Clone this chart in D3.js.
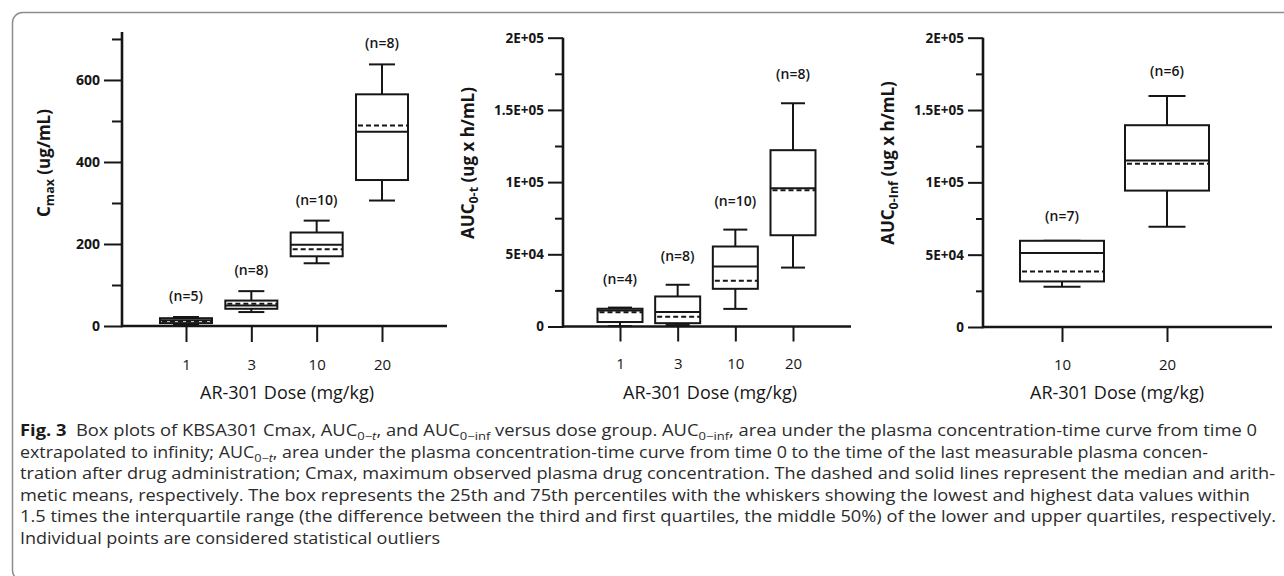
<!DOCTYPE html>
<html>
<head>
<meta charset="utf-8">
<script src="https://cdn.jsdelivr.net/npm/d3@7"></script>
<style>
  body { margin: 0; background: #fff; }
  svg { display: block; }
</style>
</head>
<body>
<script>
// values
const doses4 = ["1", "3", "10", "20"];
const doses2 = ["10", "20"];

// Cmax (ug/mL)
const cmaxN = [5, 8, 10, 8];
const cmaxMin = [4, 34, 153, 306];
const cmaxQ1 = [7, 42, 170, 356];
const cmaxMedian = [11, 54, 187, 489];
const cmaxMean = [14, 50, 198, 474];
const cmaxQ3 = [19, 62, 228, 565];
const cmaxMax = [22, 85, 257, 638];

// AUC 0-t (ug x h/mL)
const auctN = [4, 8, 10, 8];
const auctMin = [300, 1000, 12200, 40800];
const auctQ1 = [3100, 2300, 26100, 63200];
const auctMedian = [9800, 6800, 31600, 94400];
const auctMean = [11100, 10000, 41500, 95800];
const auctQ3 = [12300, 20800, 55400, 122100];
const auctMax = [13100, 28900, 67100, 154600];

// AUC 0-inf (ug x h/mL)
const aucinfN = [7, 6];
const aucinfMin = [27800, 69300];
const aucinfQ1 = [31500, 94300];
const aucinfMedian = [38400, 112800];
const aucinfMean = [51100, 115100];
const aucinfQ3 = [59600, 139500];
const aucinfMax = [59600, 159700];

// axis ticks
const cmaxTicks = [0, 200, 400, 600];
const cmaxMinorTicks = [100, 300, 500, 700];
const aucTicks = [0, 50000, 100000, 150000, 200000];
const aucTickLabels = ["0", "5E+04", "1E+05", "1.5E+05", "2E+05"];
const aucMinorTicks = [25000, 75000, 125000, 175000];

const W = 1284, H = 576;
const ink = "#161616";

const svg = d3.select("body").append("svg")
  .attr("width", W).attr("height", H)
  .attr("viewBox", `0 0 ${W} ${H}`);

// figure frame (runs off the right and bottom edges)
svg.append("rect")
  .attr("x", 12.5).attr("y", 12.5)
  .attr("width", 1300).attr("height", 568)
  .attr("rx", 10)
  .attr("fill", "none")
  .attr("stroke", "#8c8c8c")
  .attr("stroke-width", 1.5);

function zip(cats, n, mn, q1, med, mean, q3, mx) {
  return cats.map((c, i) => ({
    cat: c, n: n[i], min: mn[i], q1: q1[i], median: med[i],
    mean: mean[i], q3: q3[i], max: mx[i]
  }));
}

function boxPanel(opt) {
  const g = svg.append("g");

  const y = d3.scaleLinear().domain(opt.yDomain).range([opt.y0, opt.yTop]);
  const x = d3.scalePoint().domain(opt.cats).range(opt.xRange);

  // minor y ticks
  g.append("g")
    .attr("transform", `translate(${opt.axisX},0)`)
    .call(d3.axisLeft(y).tickValues(opt.minorTicks).tickSize(opt.minorLen).tickFormat(""))
    .call(a => a.select(".domain").remove());

  // major y ticks
  const ya = g.append("g")
    .attr("transform", `translate(${opt.axisX},0)`)
    .call(d3.axisLeft(y).tickValues(opt.ticks).tickSize(opt.majorLen).tickPadding(4)
      .tickFormat((d, i) => opt.tickLabels ? opt.tickLabels[i] : d));
  ya.select(".domain").remove();
  ya.selectAll("text")
    .attr("font-family", "Open Sans")
    .attr("font-weight", 700)
    .attr("font-size", opt.tickFont)
    .attr("fill", ink);

  // x ticks
  const xa = g.append("g")
    .attr("transform", `translate(0,${y(0)})`)
    .call(d3.axisBottom(x).tickSize(opt.xTickLen).tickPadding(17));
  xa.select(".domain").remove();
  xa.selectAll("text")
    .attr("font-family", "Open Sans")
    .attr("font-size", 15)
    .attr("fill", ink);

  g.selectAll(".tick line")
    .attr("stroke", ink)
    .attr("stroke-width", 2);

  // axis lines
  g.append("line")
    .attr("x1", opt.axisX).attr("x2", opt.axisX)
    .attr("y1", y(0) + 1.2).attr("y2", opt.yTop)
    .attr("stroke", ink).attr("stroke-width", 2.6);
  g.append("line")
    .attr("x1", opt.axisX).attr("x2", opt.xEnd)
    .attr("y1", y(0)).attr("y2", y(0))
    .attr("stroke", ink).attr("stroke-width", 2.6);

  // boxes
  const bw = opt.boxW, cw = opt.capW;
  const box = g.selectAll(".box").data(opt.data).enter().append("g")
    .attr("class", "box")
    .attr("fill", "none")
    .attr("stroke", ink)
    .attr("stroke-width", 2);

  box.append("line")
    .attr("x1", d => x(d.cat)).attr("x2", d => x(d.cat))
    .attr("y1", d => y(d.max)).attr("y2", d => y(d.q3));
  box.append("line")
    .attr("x1", d => x(d.cat)).attr("x2", d => x(d.cat))
    .attr("y1", d => y(d.q1)).attr("y2", d => y(d.min));
  box.append("line")
    .attr("x1", d => x(d.cat) - cw / 2).attr("x2", d => x(d.cat) + cw / 2)
    .attr("y1", d => y(d.max)).attr("y2", d => y(d.max));
  box.append("line")
    .attr("x1", d => x(d.cat) - cw / 2).attr("x2", d => x(d.cat) + cw / 2)
    .attr("y1", d => y(d.min)).attr("y2", d => y(d.min));
  box.append("rect")
    .attr("x", d => x(d.cat) - bw / 2)
    .attr("width", bw)
    .attr("y", d => y(d.q3))
    .attr("height", d => y(d.q1) - y(d.q3))
    .attr("fill", "#fff");
  // mean: solid
  box.append("line")
    .attr("x1", d => x(d.cat) - bw / 2).attr("x2", d => x(d.cat) + bw / 2)
    .attr("y1", d => y(d.mean)).attr("y2", d => y(d.mean));
  // median: dashed
  box.append("line")
    .attr("x1", d => x(d.cat) - bw / 2 + 2).attr("x2", d => x(d.cat) + bw / 2)
    .attr("y1", d => y(d.median)).attr("y2", d => y(d.median))
    .attr("stroke-dasharray", "5,3");

  // n labels
  g.selectAll(".nlab").data(opt.data).enter().append("text")
    .attr("x", d => x(d.cat))
    .attr("y", d => y(d.max) - opt.nOffset)
    .attr("text-anchor", "middle")
    .attr("font-family", "Open Sans")
    .attr("font-weight", 600)
    .attr("font-size", 14)
    .attr("fill", ink)
    .text(d => `(n=${d.n})`);

  // y title
  const yt = g.append("text")
    .attr("transform", `translate(${opt.yTitleX},${opt.yTitleY}) rotate(-90)`)
    .attr("text-anchor", "middle")
    .attr("font-family", "Open Sans")
    .attr("font-weight", 700)
    .attr("font-size", 17)
    .attr("fill", ink);
  yt.append("tspan").text(opt.yTitle[0]);
  yt.append("tspan").attr("dy", 4).attr("font-size", 12.5).text(opt.yTitle[1]);
  yt.append("tspan").attr("dy", -4).text(opt.yTitle[2]);

  // x title
  g.append("text")
    .attr("x", opt.xTitleX).attr("y", 399)
    .attr("text-anchor", "middle")
    .attr("font-family", "Open Sans")
    .attr("font-weight", 500)
    .attr("font-size", 18)
    .attr("fill", ink)
    .text("AR-301 Dose (mg/kg)");
}

boxPanel({
  data: zip(doses4, cmaxN, cmaxMin, cmaxQ1, cmaxMedian, cmaxMean, cmaxQ3, cmaxMax),
  cats: doses4, yDomain: [0, 717], y0: 326, yTop: 32,
  ticks: cmaxTicks, minorTicks: cmaxMinorTicks, tickLabels: null,
  axisX: 122, xEnd: 447, xRange: [186, 382],
  boxW: 52, capW: 26, majorLen: 18, minorLen: 10, xTickLen: 16, tickFont: 14,
  nOffset: 16, yTitleX: 50, yTitleY: 163, xTitleX: 287,
  yTitle: ["C", "max", " (ug/mL)"]
});

boxPanel({
  data: zip(doses4, auctN, auctMin, auctQ1, auctMedian, auctMean, auctQ3, auctMax),
  cats: doses4, yDomain: [0, 200000], y0: 326.5, yTop: 37.7,
  ticks: aucTicks, minorTicks: aucMinorTicks, tickLabels: aucTickLabels,
  axisX: 563, xEnd: 851, xRange: [620, 793],
  boxW: 45, capW: 24, majorLen: 15, minorLen: 8, xTickLen: 15, tickFont: 13.5,
  nOffset: 24, yTitleX: 474, yTitleY: 163, xTitleX: 710,
  yTitle: ["AUC", "0-t", " (ug x h/mL)"]
});

boxPanel({
  data: zip(doses2, aucinfN, aucinfMin, aucinfQ1, aucinfMedian, aucinfMean, aucinfQ3, aucinfMax),
  cats: doses2, yDomain: [0, 200000], y0: 327, yTop: 37.7,
  ticks: aucTicks, minorTicks: aucMinorTicks, tickLabels: aucTickLabels,
  axisX: 983, xEnd: 1272, xRange: [1062, 1167],
  boxW: 84, capW: 37, majorLen: 15, minorLen: 7, xTickLen: 15, tickFont: 13.5,
  nOffset: 20, yTitleX: 894, yTitleY: 163, xTitleX: 1117,
  yTitle: ["AUC", "0-Inf", " (ug x h/mL)"]
});

// caption: segments [text, style] where style b=bold, s=subscript, si=italic subscript
const captionLines = [
  [["Fig. 3", "b"], ["  Box plots of KBSA301 Cmax, AUC"], ["0\u2212", "s"], ["t", "si"], [", and AUC"], ["0\u2212inf", "s"],
   [" versus dose group. AUC"], ["0\u2212inf", "s"], [", area under the plasma concentration-time curve from time 0"]],
  [["extrapolated to infinity; AUC"], ["0\u2212", "s"], ["t", "si"],
   [", area under the plasma concentration-time curve from time 0 to the time of the last measurable plasma concen-"]],
  [["tration after drug administration; Cmax, maximum observed plasma drug concentration. The dashed and solid lines represent the median and arith-"]],
  [["metic means, respectively. The box represents the 25th and 75th percentiles with the whiskers showing the lowest and highest data values within"]],
  [["1.5 times the interquartile range (the difference between the third and first quartiles, the middle 50%) of the lower and upper quartiles, respectively."]],
  [["Individual points are considered statistical outliers"]]
];
const captionEnds = [1257, 1208, 1275, 1250, 1276, 440];

const cap = svg.append("g")
  .attr("font-family", "Open Sans")
  .attr("font-size", 15.5)
  .attr("fill", "#2b2b2b");

captionLines.forEach((segs, li) => {
  const t = cap.append("text")
    .attr("x", 20)
    .attr("y", 436 + li * 21.5)
    .attr("textLength", captionEnds[li] - 20)
    .attr("lengthAdjust", "spacingAndGlyphs")
    .attr("xml:space", "preserve");
  let shifted = false;
  segs.forEach(([txt, st]) => {
    const ts = t.append("tspan").text(txt);
    const sub = st === "s" || st === "si";
    if (sub && !shifted) { ts.attr("dy", 4); shifted = true; }
    if (!sub && shifted) { ts.attr("dy", -4); shifted = false; }
    if (sub) ts.attr("font-size", 11);
    if (st === "si") ts.attr("font-style", "italic");
    if (st === "b") ts.attr("font-weight", 700).attr("fill", "#1a1a1a");
  });
});
</script>
</body>
</html>
